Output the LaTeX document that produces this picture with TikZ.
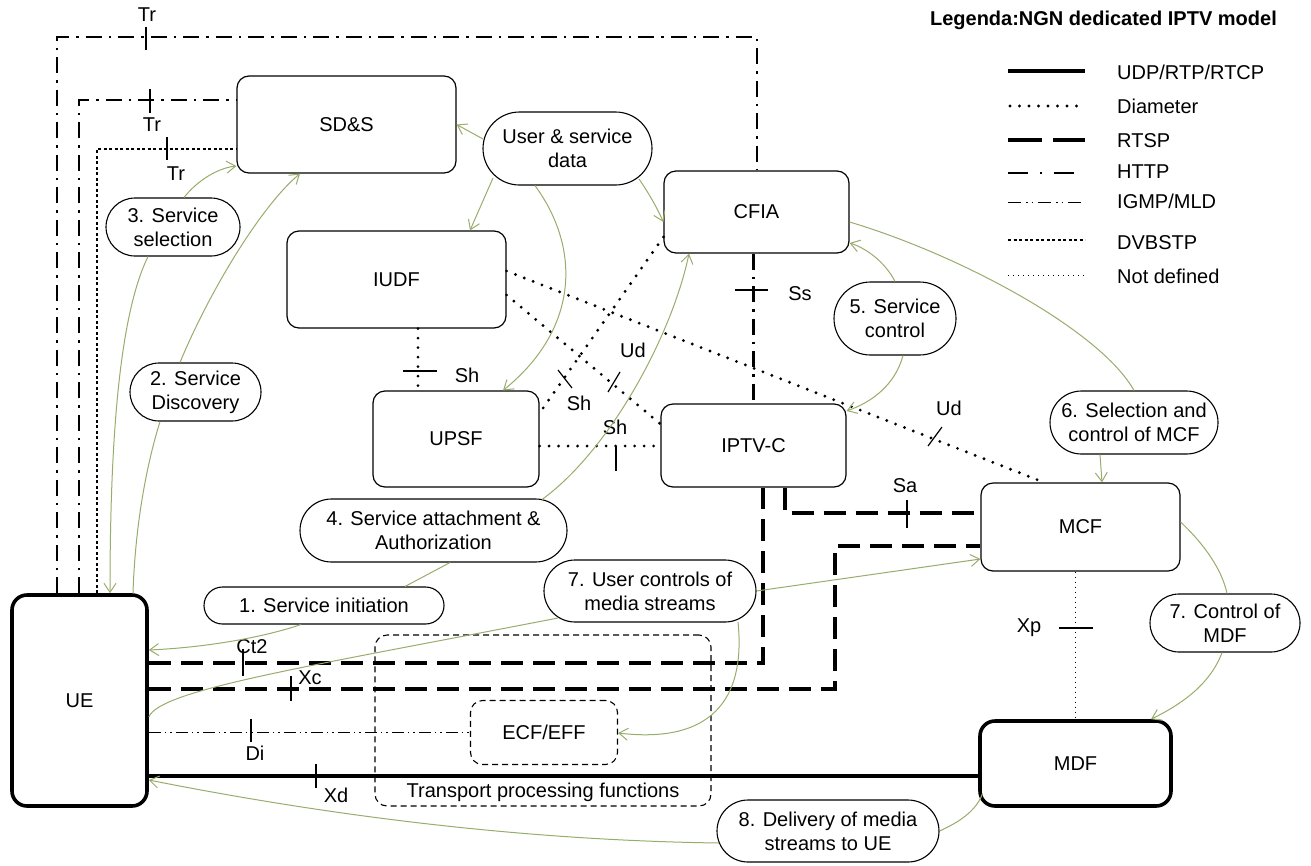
\documentclass[tikz,border=0pt]{standalone}
\usepackage{fontspec}
\setmainfont{Liberation Sans}
\usetikzlibrary{arrows.meta,calc}
\definecolor{flowc}{RGB}{152,172,108}
\newcommand{\dlab}{\fontsize{20}{24}\selectfont}
\begin{document}
\begin{tikzpicture}[x=1pt,y=-1pt,
  box/.style={draw, line width=1.2pt, rounded corners=12pt, inner sep=0pt, font=\dlab},
  heavybox/.style={draw, line width=3.6pt, rounded corners=15pt, inner sep=0pt, font=\dlab},
  oval/.style={draw, line width=1.1pt, inner sep=0pt, align=center, font=\dlab},
  dashbox/.style={draw, line width=1.1pt, dash pattern=on 6pt off 4pt, rounded corners=12pt, inner sep=0pt, font=\dlab},
  lbl/.style={font=\dlab, inner sep=0pt},
  tick/.style={line width=1.2pt},
  udp/.style={line width=4.5pt},
  diam/.style={line width=3.2pt, line cap=round, dash pattern=on 0pt off 9.5pt},
  rtsp/.style={line width=4pt, dash pattern=on 22pt off 10pt},
  http/.style={line width=2.3pt, dash pattern=on 16pt off 7pt on 2.5pt off 7pt},
  igmp/.style={line width=1pt, dash pattern=on 12pt off 4pt on 1.5pt off 4pt on 1.5pt off 4pt},
  dvb/.style={line width=2pt, dash pattern=on 3pt off 2.5pt},
  undef/.style={line width=1pt, dash pattern=on 1pt off 4pt},
  flow/.style={draw=flowc, line width=1pt},
  flowa/.style={flow, -{Straight Barb[length=9pt,width=12pt]}},
]
\useasboundingbox (0,0) rectangle (1311,865);

% ---- main boxes
\node[box, minimum width=219, minimum height=97] (sds) at (346.5,124.5) {SD\&S};
\node[box, minimum width=219, minimum height=97] (iudf) at (396.5,279.5) {IUDF};
\node[box, minimum width=166, minimum height=96] (upsf) at (456,439) {UPSF};
\node[box, minimum width=185, minimum height=82] (cfia) at (756.5,212) {CFIA};
\node[box, minimum width=185, minimum height=83] (iptvc) at (753.5,445.5) {IPTV-C};
\node[box, minimum width=199, minimum height=88] (mcf) at (1080.5,527) {MCF};
\node[heavybox, minimum width=191, minimum height=85] (mdf) at (1075.5,763.5) {MDF};
\node[heavybox, minimum width=135, minimum height=211] (ue) at (79.5,700.5) {UE};
\node[dashbox, minimum width=147, minimum height=64] (ecf) at (544,732.5) {ECF/EFF};
\node[dashbox, minimum width=336, minimum height=171] (tpf) at (543,720.5) {};
\node[lbl] (tpfl) at (543,792) {Transport processing functions};

% ---- ovals
\node[oval, minimum width=169, minimum height=73, rounded corners=36.5] (usd) at (567.5,148.5) {User \& service\\data};
\node[oval, minimum width=134, minimum height=58, rounded corners=29] (o3) at (173,227) {3. Service\\selection};
\node[oval, minimum width=131, minimum height=58, rounded corners=29] (o2) at (195.5,392) {2. Service\\Discovery};
\node[oval, minimum width=267, minimum height=63, rounded corners=31.5] (o4) at (433.5,530.5) {4. Service attachment \&\\Authorization};
\node[oval, minimum width=240, minimum height=37, rounded corners=18.5] (o1) at (324,605.5) {1. Service initiation};
\node[oval, minimum width=212, minimum height=62, rounded corners=31] (o7u) at (650,591) {7. User controls of\\media streams};
\node[oval, minimum width=122, minimum height=73, rounded corners=36.5] (o5) at (895,318.5) {5. Service\\control};
\node[oval, minimum width=168, minimum height=63, rounded corners=31.5] (o6) at (1134,422.5) {6. Selection and\\control of MCF};
\node[oval, minimum width=150, minimum height=58, rounded corners=29] (o7c) at (1225,623) {7. Control of\\MDF};
\node[oval, minimum width=222, minimum height=62, rounded corners=31] (o8) at (828,831) {8. Delivery of media\\streams to UE};

% ---- HTTP / DVBSTP lines from UE
\coordinate (h1) at (57,37); \coordinate (h2) at (757,37);
\draw[http] (ue.north -| h1) -- (h1) -- (h2) -- (cfia.north -| h2);
\coordinate (m1) at (79,100);
\draw[http] (ue.north -| m1) -- (m1) -- (m1 -| sds.west);
\coordinate (d1) at (97,149);
\draw[dvb] (ue.north -| d1) -- (d1) -- (d1 -| sds.west);
\draw[tick] (146,27) -- (146,50); \node[lbl] (ltr1) at (147,15) {Tr};
\draw[tick] (150,89) -- (150,113); \node[lbl] (ltr2) at (152,125) {Tr};
\draw[tick] (167,137) -- (167,160); \node[lbl] (ltr3) at (176,174) {Tr};

% ---- CFIA - IPTV-C
\draw[http] (cfia.south -| iptvc.north) -- (iptvc.north);
\draw[tick] (735,290) -- (768,290); \node[lbl] (lss) at (800,294) {Ss};

% ---- Diameter
\coordinate (x418) at (418,0);
\draw[diam] (iudf.south -| x418) -- (upsf.north -| x418);
\draw[tick] (403,371) -- (437,371); \node[lbl] (lsh1) at (467,375) {Sh};
\coordinate (y446) at (0,446);
\draw[diam] (upsf.east |- y446) -- (iptvc.west |- y446);
\draw[tick] (616,446) -- (616,471); \node[lbl] (lsh3) at (615,427) {Sh};
\draw[diam] (cfia.west |- 0,237) -- (upsf.east |- 0,413);
\draw[tick] (558,370) -- (572,388); \node[lbl] (lsh2) at (579,403) {Sh};
\draw[diam] (iudf.east |- 0,295) -- (iptvc.west |- 0,424);
\draw[tick] (608,392) -- (620,372); \node[lbl] (lud1) at (633,350) {Ud};
\draw[diam] (iudf.east |- 0,271) -- (mcf.north -| 1044,0);
\draw[tick] (928,446) -- (942,427); \node[lbl] (lud2) at (949,408) {Ud};

% ---- RTSP
\draw[rtsp] (iptvc.south -| 785,0) -- (785,513) -- (mcf.west |- 0,513);
\draw[tick] (907,500) -- (907,528); \node[lbl] (lsa) at (905,486) {Sa};
\draw[rtsp] (ue.east |- 0,663) -- (763,663) -- (iptvc.south -| 763,0);
\draw[tick] (243,649) -- (243,676); \node[lbl] (lct) at (252,647) {Ct2};
\draw[rtsp] (ue.east |- 0,689) -- (835,689) -- (835,546) -- (mcf.west |- 0,546);
\draw[tick] (291,676) -- (291,701); \node[lbl] (lxc) at (310,678) {Xc};

% ---- IGMP, UDP, not defined
\draw[igmp] (ue.east |- 0,732) -- (ecf.west |- 0,732);
\draw[tick] (251,719) -- (251,742); \node[lbl] (ldi) at (255,753) {Di};
\draw[udp] (ue.east |- 0,776) -- (mdf.west |- 0,776);
\draw[tick] (316,764) -- (316,788); \node[lbl] (lxd) at (336,795) {Xd};
\draw[undef] (mcf.south -| 1075,0) -- (mdf.north -| 1075,0);
\draw[tick] (1059,628) -- (1093,628); \node[lbl] (lxp) at (1029,628) {Xp};

% ---- flows
\draw[flowa] (o3.north -| 184,0) .. controls (198,180) and (218,168) .. (sds.west |- 0,166);
\draw[flowa] (o3.south -| 148,0) .. controls (122,310) and (110,420) .. (ue.north -| 110,0);
\draw[flowa] (o2.north -| 180,0) .. controls (210,290) and (262,205) .. (sds.south -| 300,0);
\draw[flow] (o2.south -| 160,0) .. controls (145,470) and (135,530) .. (ue.north -| 133,0);
\draw[flowa] ($(usd)+(-84.5,-9.5)$) -- (sds.east);
\draw[flowa] ($(usd)+(-74.5,29.5)$) -- (iudf.north -| 470,0);
\draw[flowa] (usd.south -| 535,0) .. controls (582,250) and (578,330) .. (upsf.north -| 503,0);
\draw[flowa] ($(usd)+(71.5,30.5)$) .. controls (650,195) and (657,208) .. (cfia.west |- 0,222);
\draw[flowa] ($(o4)+(108.5,-31)$) .. controls (610,450) and (672,335) .. (cfia.south -| 689,0);
\draw[flow] (o4.south -| 450,0) -- (o1.north -| 405,0);
\draw[flowa] (o1.south -| 301,0) .. controls (255,640) and (195,648) .. (ue.east |- 0,650);
\draw[flow] ($(o7u)+(-92,27)$) .. controls (300,668) and (160,690) .. (ue.east |- 0,717);
\draw[flowa] (o7u.east) -- (mcf.west |- 0,559);
\draw[flowa] ($(o7u)+(88,31)$) .. controls (745,690) and (720,745) .. (ecf.east |- 0,733);
\draw[flowa] (o5.north -| 895,0) .. controls (885,262) and (866,248) .. (cfia.east |- 0,243);
\draw[flowa] (o5.south -| 903,0) .. controls (895,385) and (872,402) .. (iptvc.east |- 0,411);
\draw[flow] (cfia.east |- 0,222) .. controls (960,255) and (1100,330) .. (o6.north);
\draw[flowa] (o6.south -| 1100,0) -- (mcf.north -| 1102,0);
\draw[flow] (mcf.east |- 0,522) .. controls (1205,545) and (1222,570) .. (o7c.north -| 1227,0);
\draw[flowa] (o7c.south -| 1222,0) .. controls (1210,685) and (1180,705) .. (mdf.north -| 1151,0);
\draw[flow] ($(mdf)+(-93,30)$) .. controls (975,815) and (950,826) .. (o8.east);
\draw[flowa] ($(o8)+(-109,12)$) .. controls (500,840) and (300,810) .. (ue.east |- 0,780);

% ---- legend
\node[font=\fontsize{20}{24}\selectfont\bfseries, anchor=east, inner sep=0pt] (lgt) at (1277,20) {Legenda:NGN dedicated IPTV model};
\draw[udp] (1008,71) -- (1085,71); \node[lbl, anchor=west] (lg1) at (1117,72) {UDP/RTP/RTCP};
\draw[diam] (1010,106) -- (1085,106); \node[lbl, anchor=west] (lg2) at (1117,106) {Diameter};
\draw[line width=4pt, dash pattern=on 34pt off 11pt] (1008,140) -- (1085,140); \node[lbl, anchor=west] (lg3) at (1117,141) {RTSP};
\draw[line width=2.3pt, dash pattern=on 20pt off 12pt on 2pt off 12pt] (1008,173) -- (1085,173); \node[lbl, anchor=west] (lg4) at (1117,172) {HTTP};
\draw[line width=1pt, dash pattern=on 13pt off 5pt on 1.5pt off 4pt on 1.5pt off 5pt] (1008,202) -- (1085,202); \node[lbl, anchor=west] (lg5) at (1117,201) {IGMP/MLD};
\draw[dvb] (1008,240) -- (1085,240); \node[lbl, anchor=west] (lg6) at (1117,243) {DVBSTP};
\draw[undef] (1008,275) -- (1085,275); \node[lbl, anchor=west] (lg7) at (1117,276) {Not defined};
\end{tikzpicture}
\end{document}
